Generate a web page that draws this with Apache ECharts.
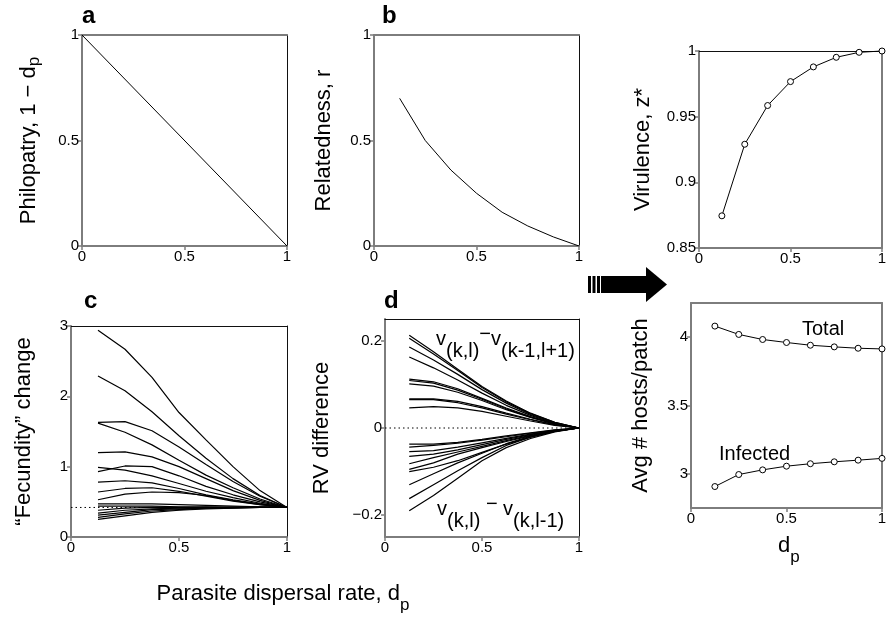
<!DOCTYPE html>
<html><head><meta charset="utf-8">
<script src="https://cdn.jsdelivr.net/npm/echarts@6/dist/echarts.min.js"></script>
<style>html,body{margin:0;padding:0;background:#fff}#c{width:891px;height:623px}</style>
</head><body><div id="c"></div>
<script>
// ---- data ----
const dispersal = [0.125, 0.25, 0.375, 0.5, 0.625, 0.75, 0.875, 1];
const philopatryX = [0, 1];
const philopatryY = [1, 0];
const relatedness = [0.70, 0.50, 0.36, 0.25, 0.16, 0.095, 0.043, 0];
const fecundityBaseline = 0.42;
const fecundityCurves = [
  [2.94, 2.67, 2.27, 1.77, 1.38, 1.00, 0.66, 0.42],
  [2.29, 2.08, 1.78, 1.44, 1.12, 0.83, 0.59, 0.42],
  [1.63, 1.64, 1.51, 1.28, 1.03, 0.79, 0.58, 0.42],
  [1.62, 1.49, 1.31, 1.09, 0.88, 0.70, 0.54, 0.42],
  [1.20, 1.21, 1.14, 1.00, 0.83, 0.66, 0.52, 0.42],
  [0.99, 0.95, 0.87, 0.76, 0.65, 0.56, 0.48, 0.42],
  [0.93, 1.01, 1.00, 0.87, 0.72, 0.60, 0.50, 0.42],
  [0.78, 0.80, 0.77, 0.69, 0.60, 0.53, 0.47, 0.42],
  [0.64, 0.69, 0.70, 0.65, 0.58, 0.51, 0.46, 0.42],
  [0.53, 0.61, 0.64, 0.63, 0.59, 0.52, 0.46, 0.42],
  [0.47, 0.47, 0.47, 0.46, 0.45, 0.44, 0.43, 0.42],
  [0.44, 0.44, 0.44, 0.43, 0.43, 0.42, 0.42, 0.42],
  [0.38, 0.41, 0.42, 0.42, 0.42, 0.42, 0.42, 0.42],
  [0.34, 0.38, 0.40, 0.41, 0.42, 0.42, 0.42, 0.42],
  [0.31, 0.35, 0.39, 0.40, 0.41, 0.42, 0.42, 0.42],
  [0.28, 0.33, 0.37, 0.39, 0.41, 0.41, 0.42, 0.42],
  [0.25, 0.30, 0.35, 0.38, 0.40, 0.41, 0.42, 0.42]
];
const rvUpperCurves = [
  [0.213, 0.175, 0.135, 0.095, 0.062, 0.034, 0.013, 0],
  [0.206, 0.170, 0.132, 0.093, 0.060, 0.033, 0.013, 0],
  [0.186, 0.156, 0.123, 0.088, 0.057, 0.031, 0.012, 0],
  [0.163, 0.138, 0.110, 0.080, 0.052, 0.029, 0.011, 0],
  [0.112, 0.106, 0.090, 0.068, 0.046, 0.026, 0.010, 0],
  [0.109, 0.103, 0.087, 0.066, 0.044, 0.025, 0.010, 0],
  [0.101, 0.096, 0.082, 0.063, 0.042, 0.024, 0.009, 0],
  [0.067, 0.067, 0.061, 0.049, 0.034, 0.020, 0.008, 0],
  [0.065, 0.065, 0.058, 0.046, 0.032, 0.019, 0.007, 0],
  [0.046, 0.049, 0.046, 0.038, 0.027, 0.016, 0.006, 0]
];
const rvLowerCurves = [
  [-0.037, -0.037, -0.033, -0.026, -0.018, -0.011, -0.004, 0],
  [-0.044, -0.040, -0.035, -0.028, -0.020, -0.012, -0.005, 0],
  [-0.054, -0.052, -0.044, -0.034, -0.024, -0.014, -0.006, 0],
  [-0.065, -0.060, -0.050, -0.038, -0.026, -0.015, -0.006, 0],
  [-0.082, -0.068, -0.055, -0.042, -0.029, -0.017, -0.007, 0],
  [-0.095, -0.080, -0.060, -0.045, -0.031, -0.018, -0.007, 0],
  [-0.100, -0.090, -0.075, -0.056, -0.037, -0.021, -0.008, 0],
  [-0.130, -0.105, -0.080, -0.058, -0.036, -0.019, -0.007, 0],
  [-0.162, -0.130, -0.098, -0.068, -0.040, -0.021, -0.008, 0],
  [-0.190, -0.155, -0.115, -0.075, -0.045, -0.024, -0.009, 0]
];
const virulence = [0.8745, 0.929, 0.9585, 0.9767, 0.9879, 0.9952, 0.999, 1.0];
const hostsTotal = [4.081, 4.020, 3.983, 3.961, 3.941, 3.929, 3.919, 3.914];
const hostsInfected = [2.907, 2.995, 3.029, 3.056, 3.074, 3.088, 3.100, 3.113];
// tick labels
const xTicks = [0, 0.5, 1];
const ticksUnit = [0, 0.5, 1];
const ticksFecundity = [0, 1, 2, 3];
const ticksRV = [-0.2, 0, 0.2];
const ticksVirulence = [0.85, 0.9, 0.95, 1];
const ticksHosts = [3, 3.5, 4];

// ---- layout / style ----
const FONT = '"Liberation Sans", Arial, Helvetica, sans-serif';
const GRAY = '#7d7d7d';
const panels = [
  {grid:{left:82, top:35, width:205, height:211}, ymin:0, ymax:1, yt:ticksUnit, name:'{t|Philopatry, 1 − d}{s|p}', gap:39, topC:GRAY, topW:2, rightC:'#111', rightW:1},
  {grid:{left:374, top:35, width:205, height:211}, ymin:0, ymax:1, yt:ticksUnit, name:'{t|Relatedness, r}', gap:39, topC:GRAY, topW:2, rightC:'#111', rightW:1},
  {grid:{left:71, top:326, width:216, height:211}, ymin:0, ymax:3, yt:ticksFecundity, name:'{t|“Fecundity” change}', gap:36, topC:'#111', topW:1, rightC:'#111', rightW:1},
  {grid:{left:385, top:319, width:194, height:218}, ymin:-0.25, ymax:0.25, yt:ticksRV, name:'{t|RV difference}', gap:52, topC:'#111', topW:1, rightC:'#111', rightW:1},
  {grid:{left:699, top:51, width:183, height:197}, ymin:0.85, ymax:1, yt:ticksVirulence, name:'{t|Virulence, z*}', gap:45, topC:'#111', topW:1, rightC:GRAY, rightW:2},
  {grid:{left:691, top:303, width:191, height:205}, ymin:2.75, ymax:4.25, yt:ticksHosts, name:'{t|Avg # hosts/patch}', gap:39, topC:GRAY, topW:2, rightC:GRAY, rightW:2}
];
const fmt = v => String(+(+v).toFixed(2)).replace('-', '−');
const nameRich = {
  t:{fontSize:22, fontFamily:FONT, color:'#000'},
  s:{fontSize:17, fontFamily:FONT, color:'#000', padding:[12,0,0,0]}
};
const grids = [], xAxes = [], yAxes = [], series = [];
panels.forEach((p, i) => {
  grids.push(Object.assign({show:false}, p.grid));
  xAxes.push({type:'value', gridIndex:i, min:0, max:1, position:'bottom',
    axisLine:{show:true, onZero:false, lineStyle:{color:GRAY, width:2}},
    axisTick:{show:true, length:4, customValues:xTicks, lineStyle:{color:GRAY, width:1.5}},
    axisLabel:{customValues:xTicks, fontSize:15, fontFamily:FONT, color:'#000', margin:3, formatter:fmt},
    splitLine:{show:false}});
  xAxes.push({type:'value', gridIndex:i, min:0, max:1, position:'top',
    axisLine:{show:true, onZero:false, lineStyle:{color:p.topC, width:p.topW}},
    axisTick:{show:false}, axisLabel:{show:false}, splitLine:{show:false}});
  yAxes.push({type:'value', gridIndex:i, min:p.ymin, max:p.ymax, position:'left',
    name:p.name, nameLocation:'middle', nameGap:p.gap, nameRotate:90,
    nameTextStyle:{rich:nameRich, fontFamily:FONT, fontSize:22, color:'#000'},
    axisLine:{show:true, onZero:false, lineStyle:{color:GRAY, width:2}},
    axisTick:{show:true, length:4, customValues:p.yt, lineStyle:{color:GRAY, width:1.5}},
    axisLabel:{customValues:p.yt, fontSize:15, fontFamily:FONT, color:'#000', margin:3, formatter:fmt},
    splitLine:{show:false}});
  yAxes.push({type:'value', gridIndex:i, min:p.ymin, max:p.ymax, position:'right',
    axisLine:{show:true, onZero:false, lineStyle:{color:p.rightC, width:p.rightW}},
    axisTick:{show:false}, axisLabel:{show:false}, splitLine:{show:false}});
});
function line(i, xs, ys, extra) {
  return Object.assign({type:'line', xAxisIndex:2*i, yAxisIndex:2*i,
    data: xs.map((x, k) => [x, ys[k]]), symbol:'none', silent:true,
    lineStyle:{color:'#000', width:1}}, extra || {});
}
series.push(line(0, philopatryX, philopatryY));
series.push(line(1, dispersal, relatedness));
series.push(line(2, [0, 1], [fecundityBaseline, fecundityBaseline], {lineStyle:{color:'#000', width:1, type:[1.5,3]}}));
fecundityCurves.forEach(c => series.push(line(2, dispersal, c, {lineStyle:{color:'#000', width:1.2}})));
series.push(line(3, [0, 1], [0, 0], {lineStyle:{color:'#000', width:1, type:[1.5,3]}}));
rvUpperCurves.concat(rvLowerCurves).forEach(c => series.push(line(3, dispersal, c, {lineStyle:{color:'#000', width:1.2}})));
const dotStyle = {symbol:'circle', symbolSize:6, showSymbol:true,
  itemStyle:{color:'#fff', borderColor:'#000', borderWidth:1}, lineStyle:{color:'#000', width:1}, clip:false};
series.push(line(4, dispersal, virulence, dotStyle));
series.push(line(5, dispersal, hostsTotal, dotStyle));
series.push(line(5, dispersal, hostsInfected, dotStyle));

function txt(x, y, text, size, bold, rich) {
  return {type:'text', x:x, y:y, silent:true, style:{text:text, fontSize:size, fontFamily:FONT,
    fontWeight:bold ? 'bold' : 'normal', fill:'#000', verticalAlign:'bottom', rich:rich}};
}
const subRich = {
  t:{fontSize:22, fontFamily:FONT, padding:[0,0,9,0], verticalAlign:'bottom'},
  s:{fontSize:17, fontFamily:FONT, verticalAlign:'bottom'}
};
const rvRich = {
  v:{fontSize:20, fontFamily:FONT, padding:[0,0,12,0], verticalAlign:'bottom'},
  s:{fontSize:20, fontFamily:FONT, verticalAlign:'bottom'},
  m:{fontSize:20, fontFamily:FONT, padding:[0,0,17,0], verticalAlign:'bottom'}
};
const graphics = [
  txt(82, 28, 'a', 24, true), txt(382, 28, 'b', 24, true),
  txt(84, 313, 'c', 24, true), txt(384, 313, 'd', 24, true),
  txt(436, 361, '{v|v}{s|(k,l)}{m|−}{v|v}{s|(k-1,l+1)}', 20, false, rvRich),
  txt(437, 531, '{v|v}{s|(k,l)}{m| − }{v|v}{s|(k,l-1)}', 20, false, rvRich),
  txt(802, 339, 'Total', 20, false), txt(719, 464, 'Infected', 20, false),
  txt(778, 566, '{t|d}{s|p}', 22, false, subRich),
  {type:'text', x:283, y:614, silent:true, style:{text:'{t|Parasite dispersal rate, d}{s|p}', rich:subRich,
    align:'center', verticalAlign:'bottom', fill:'#000'}},
  {type:'polygon', silent:true, shape:{points:[[646,267],[667,284.5],[646,302]]}, style:{fill:'#000'}},
  {type:'rect', silent:true, shape:{x:601, y:276, width:46, height:17}, style:{fill:'#000'}},
  {type:'rect', silent:true, shape:{x:588, y:276, width:3, height:17}, style:{fill:'#000'}},
  {type:'rect', silent:true, shape:{x:592.5, y:276, width:3, height:17}, style:{fill:'#000'}},
  {type:'rect', silent:true, shape:{x:597, y:276, width:3, height:17}, style:{fill:'#000'}}
];

const chart = echarts.init(document.getElementById('c'), null, {renderer:'canvas'});
chart.setOption({
  animation:false, backgroundColor:'#fff',
  grid:grids, xAxis:xAxes, yAxis:yAxes, series:series, graphic:graphics
});
</script></body></html>
